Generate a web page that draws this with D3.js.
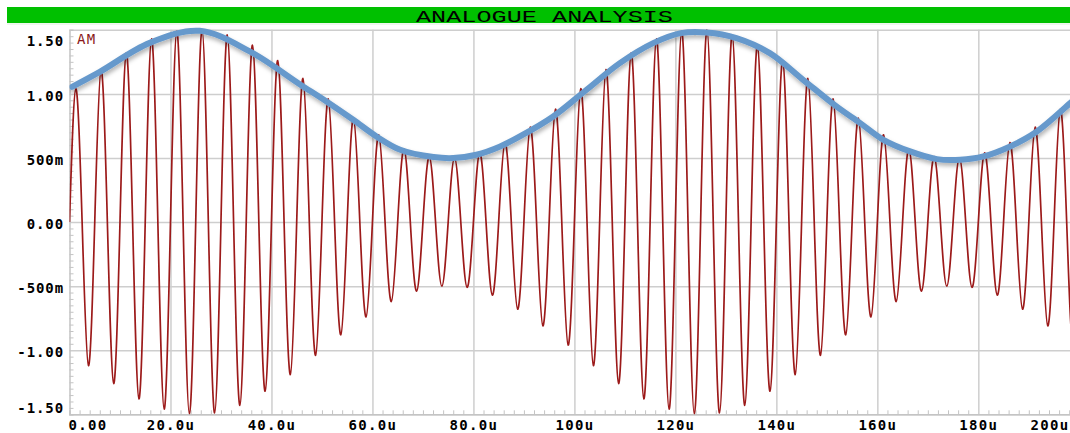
<!DOCTYPE html>
<html>
<head>
<meta charset="utf-8">
<script src="https://cdn.jsdelivr.net/npm/d3@7"></script>
<style>
  html, body { margin: 0; padding: 0; background: #fff; }
  svg { display: block; }
  .lbl { font-family: "DejaVu Sans Mono", monospace; font-weight: bold; font-size: 14px; fill: #000; }
</style>
</head>
<body>
<svg id="chart" width="1070" height="433"></svg>
<script>
// time axis (microseconds) and voltage axis
var xTicks = [0, 20, 40, 60, 80, 100, 120, 140, 160, 180, 200]
var xLabels = ["0.00", "20.0u", "40.0u", "60.0u", "80.0u", "100u", "120u", "140u", "160u", "180u", "200u"]
var yTicks = [1.5, 1, 0.5, 0, -0.5, -1, -1.5]
var yLabels = ["1.50", "1.00", "500m", "0.00", "-500m", "-1.00", "-1.50"]

// AM trace: one carrier cycle every 5u, positive peak then negative trough
var cycleStart = d3.range(0, 200, 5)
var amPeaks = [1.04, 1.19, 1.32, 1.43, 1.49, 1.50, 1.46, 1.38, 1.26, 1.12,
               0.96, 0.81, 0.68, 0.57, 0.51, 0.50, 0.54, 0.62, 0.74, 0.88,
               1.04, 1.19, 1.32, 1.43, 1.49, 1.50, 1.46, 1.38, 1.26, 1.12,
               0.96, 0.81, 0.68, 0.57, 0.51, 0.50, 0.54, 0.62, 0.74, 0.88]
var amTroughs = [-1.12, -1.26, -1.38, -1.46, -1.50, -1.49, -1.43, -1.32, -1.19, -1.04,
                 -0.88, -0.74, -0.62, -0.54, -0.50, -0.51, -0.57, -0.68, -0.81, -0.96,
                 -1.12, -1.26, -1.38, -1.46, -1.50, -1.49, -1.43, -1.32, -1.19, -1.04,
                 -0.88, -0.74, -0.62, -0.54, -0.50, -0.51, -0.57, -0.68, -0.81, -0.96]

// hand drawn envelope (blue)
var envT = [0.5, 6, 15.9, 25.8, 35.7, 45.6, 50.9, 56.2, 60.8, 65.5, 72.1, 76, 80.6, 85.3, 89.2,
            95.8, 102.4, 109, 115.6, 121.1, 126.2, 132.1, 138.7, 145.3, 151.9, 156.6, 161.2,
            166.5, 171.8, 176.4, 181, 186.3, 191.6, 198.2, 200]
var envV = [1.055, 1.172, 1.398, 1.492, 1.331, 1.076, 0.941, 0.798, 0.668, 0.564, 0.507, 0.499, 0.525, 0.590, 0.668,
            0.824, 1.032, 1.240, 1.396, 1.474, 1.479, 1.435, 1.318, 1.110, 0.902, 0.772, 0.642,
            0.551, 0.491, 0.486, 0.512, 0.590, 0.707, 0.928, 0.99]

var amData = []
cycleStart.forEach(function(c, i){
    amData.push({t: c, v: 0})
    amData.push({t: c + 1.25, v: amPeaks[i]})
    amData.push({t: c + 2.5, v: 0})
    amData.push({t: c + 3.75, v: amTroughs[i]})
})
amData.push({t: 200, v: 0})
var envData = envT.map(function(t, i){ return {t: t, v: envV[i]} })

function drawChart(){
    const LEFT = 69.5, TOP = 29.8, BOTTOM = 414.3, RIGHT = 1079.3

    const xScale = d3.scaleLinear().domain([0, 200]).range([LEFT, RIGHT])
    const yScale = d3.scaleLinear().domain([-1.5, 1.5]).range([BOTTOM, TOP])

    const svg = d3.select("#chart")
    svg.append("rect").attr("width", 1070).attr("height", 433).attr("fill", "#fff")

    const defs = svg.append("defs")
    defs.append("clipPath").attr("id", "plot")
        .append("rect").attr("x", LEFT).attr("y", TOP - 6).attr("width", RIGHT - LEFT).attr("height", BOTTOM - TOP + 6)
    defs.append("filter").attr("id", "shadow").attr("x", "-5%").attr("y", "-20%").attr("width", "110%").attr("height", "140%")
        .append("feDropShadow").attr("dx", 1).attr("dy", 3).attr("stdDeviation", 2.2)
        .attr("flood-color", "#000").attr("flood-opacity", 0.3)

    // title bar
    svg.append("rect").attr("x", 7).attr("y", 7).attr("width", 1063).attr("height", 16).attr("fill", "#00c000")
    svg.append("line").attr("x1", 7).attr("x2", 1070).attr("y1", 24).attr("y2", 24)
        .attr("stroke", "#dcefdc").attr("stroke-width", 1)
    svg.append("text").text("ANALOGUE ANALYSIS")
        .attr("x", 416).attr("y", 22)
        .attr("textLength", 257).attr("lengthAdjust", "spacingAndGlyphs")
        .attr("font-family", "Liberation Mono, monospace").attr("font-size", 17)
        .attr("fill", "#000")

    // grid
    const grid = svg.append("g")
    grid.append("g")
        .attr("transform", `translate(0, ${BOTTOM})`)
        .call(d3.axisBottom(xScale).tickValues(xTicks.slice(1)).tickSize(-(BOTTOM - TOP)).tickFormat(""))
        .call(g => g.select(".domain").remove())
    grid.append("g")
        .attr("transform", `translate(${LEFT}, 0)`)
        .call(d3.axisLeft(yScale).tickValues(yTicks).tickSize(-(RIGHT - LEFT)).tickFormat(""))
        .call(g => g.select(".domain").remove())
    grid.selectAll("line").attr("stroke", "#cecece").attr("stroke-width", 1.5)

    // minor ticks
    const minorY = d3.range(-30, 31).map(d => d / 20).filter(d => Math.abs(d * 2 - Math.round(d * 2)) > 1e-6)
    const minorX = d3.range(0, 201, 2).filter(d => d % 20 != 0)
    const minor = svg.append("g")
    minor.append("g")
        .attr("transform", `translate(${LEFT}, 0)`)
        .call(d3.axisLeft(yScale).tickValues(minorY).tickSize(-4).tickFormat(""))
    minor.append("g")
        .attr("transform", `translate(0, ${BOTTOM})`)
        .call(d3.axisBottom(xScale).tickValues(minorX).tickSize(-4).tickFormat(""))
    minor.selectAll(".domain").attr("stroke", "#c4c4c4").attr("stroke-width", 1.5)
    minor.selectAll("line").attr("stroke", "#c4c4c4").attr("stroke-width", 1)

    // traces
    const plot = svg.append("g").attr("clip-path", "url(#plot)")
    const amLine = d3.line().x(d => xScale(d.t)).y(d => yScale(d.v)).curve(d3.curveNatural)
    plot.append("path").datum(amData)
        .attr("d", amLine)
        .attr("fill", "none").attr("stroke", "#9c1a1a").attr("stroke-width", 1.7)

    const envLine = d3.line().x(d => xScale(d.t)).y(d => yScale(d.v)).curve(d3.curveCatmullRom)
    svg.append("g").attr("clip-path", "url(#plot)")
        .append("path").datum(envData)
        .attr("d", envLine)
        .attr("fill", "none").attr("stroke", "#6699cc").attr("stroke-width", 6)
        .attr("stroke-linecap", "round").attr("filter", "url(#shadow)")

    svg.append("text").text("AM")
        .attr("x", 77).attr("y", 44.3)
        .attr("font-family", "DejaVu Sans Mono, monospace").attr("font-size", 14)
        .attr("letter-spacing", 1.2).attr("fill", "#8b1a1a")

    // tick labels
    const yAxis = svg.append("g")
        .attr("transform", `translate(${LEFT}, 0)`)
        .call(d3.axisLeft(yScale).tickValues(yTicks).tickSize(0).tickPadding(5.5)
            .tickFormat((d, i) => yLabels[i]))
    yAxis.select(".domain").remove()
    yAxis.selectAll("text")
        .attr("class", "lbl").attr("letter-spacing", 0.9)
        .attr("dy", d => d == 1.5 ? 15.5 : (d == -1.5 ? -1.5 : 6.5))

    // last label is kept inside the window
    const xAxis = svg.append("g")
        .attr("transform", `translate(0, ${BOTTOM})`)
        .call(d3.axisBottom(xScale).tickValues(xTicks).tickSize(0)
            .tickFormat((d, i) => xLabels[i]))
    xAxis.select(".domain").remove()
    xAxis.selectAll("text")
        .attr("class", "lbl").attr("letter-spacing", 1.3)
        .attr("dy", null).attr("y", 15.7)
        .attr("text-anchor", d => d == 0 ? "start" : (d == 200 ? "end" : "middle"))
        .attr("dx", d => d == 0 ? -1.5 : (d == 200 ? 1069 - xScale(200) : 0))
}

drawChart()
</script>
</body>
</html>
